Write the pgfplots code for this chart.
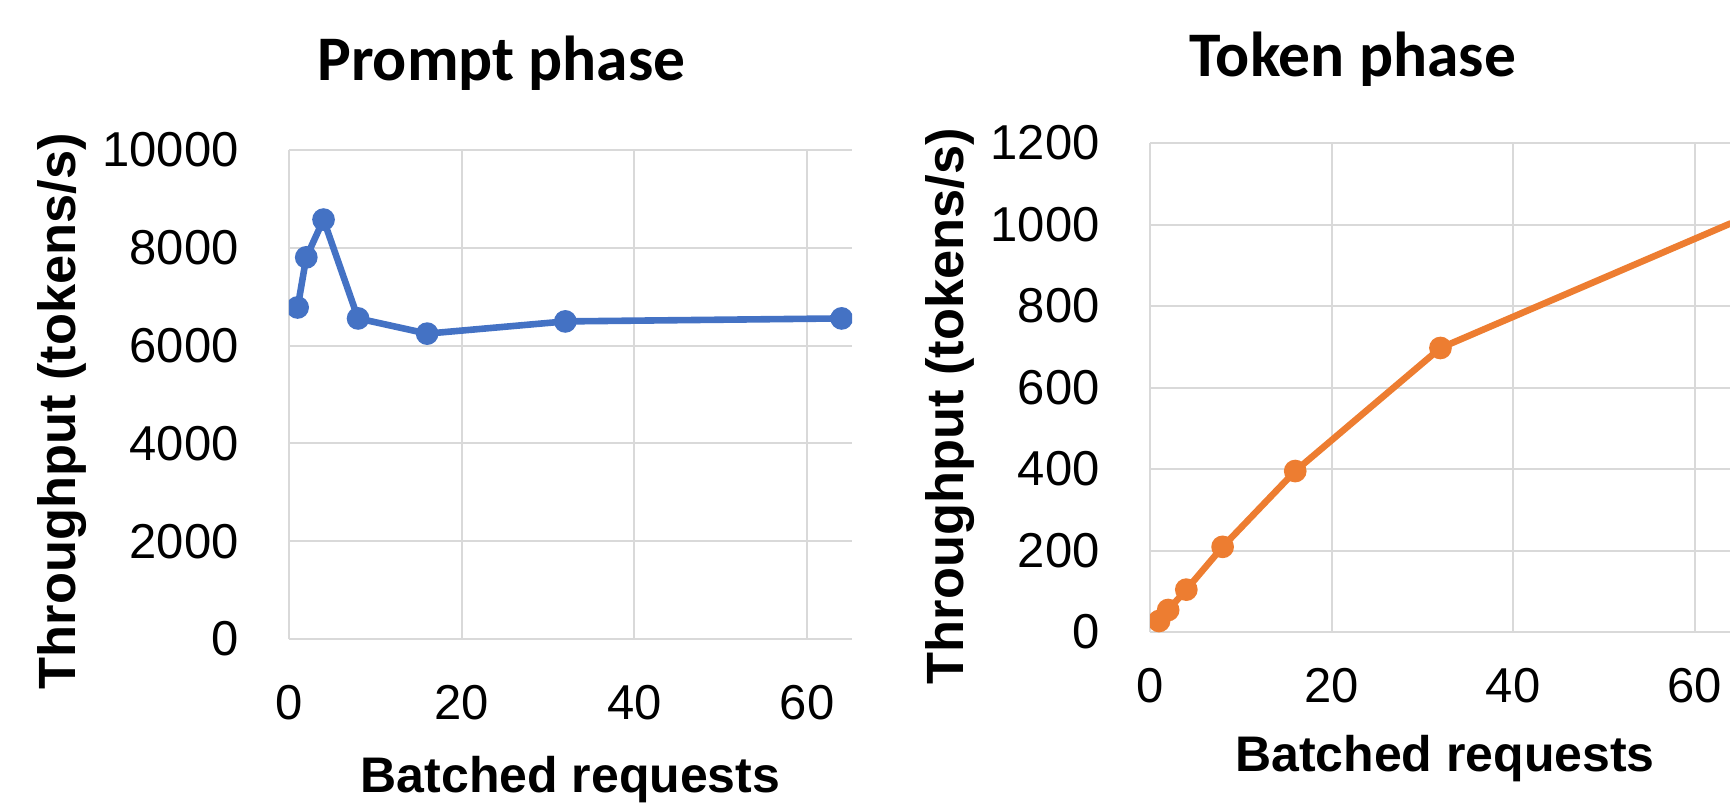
\documentclass[border=0pt]{standalone}
\usepackage{fontspec}
\setmainfont{Liberation Sans}
\newfontfamily\titlefont{Carlito}
\usepackage{pgfplots}
\pgfplotsset{compat=1.18}
\definecolor{blueline}{HTML}{4472C4}
\definecolor{orangeline}{HTML}{ED7D31}
\definecolor{gridc}{HTML}{D9D9D9}
\pgfplotsset{
  mystyle/.style={
    scale only axis,
    height=244.5pt,
    axis line style={draw=none},
    major tick length=0pt,
    grid=major,
    grid style={gridc, line width=1pt},
    scaled ticks=false,
    tick label style={font=\fontsize{24.5}{29}\selectfont},
    yticklabel style={anchor=east, inner sep=0pt, xshift=-25pt},
    /pgf/number format/assume math mode=true,
    /pgf/number format/1000 sep={},
    xlabel style={font=\bfseries\fontsize{25}{30}\selectfont},
    ylabel style={font=\bfseries\fontsize{26.2}{31}\selectfont},
    title style={font=\titlefont\bfseries\fontsize{31.75}{38}\selectfont, anchor=base},
    clip marker paths=true,
    ymin=0,
  }
}
\begin{document}
\begin{tikzpicture}
\path[use as bounding box] (0,0) rectangle (865pt,-405pt);
\begin{axis}[mystyle,
  at={(144.5pt,-319.5pt)}, anchor=south west,
  width=281.5pt,
  xmin=0, xmax=65.2, xtick={0,20,40,60},
  ymax=10000, ytick={0,2000,4000,6000,8000,10000},
  xticklabel style={anchor=north, inner sep=0pt, yshift=-23pt},
  title={Prompt phase}, title style={at={(0.3774,1.1168)}},
  xlabel={Batched requests}, xlabel style={at={(0.5,-0.313)}, anchor=base},
  ylabel={Throughput (tokens/s)}, ylabel style={at={(-0.403,0.466)}, anchor=center},
]
\addplot[blueline, line width=3.3pt, mark=*, mark size=4pt, mark options={fill=blueline, draw=blueline}]
  coordinates {(1,6780) (2,7805) (4,8577) (8,6556) (16,6245) (32,6495) (64,6556)};
\end{axis}
\begin{axis}[mystyle,
  at={(575pt,-316pt)}, anchor=south west,
  width=290pt,
  xmin=0, xmax=63.9, xtick={0,20,40,60},
  ymax=1200, ytick={0,200,400,600,800,1000,1200},
  xticklabel style={anchor=north, inner sep=0pt, yshift=-18pt},
  title={Token phase}, title style={at={(0.35,1.1107)}},
  xlabel={Batched requests}, xlabel style={at={(0.5086,-0.286)}, anchor=base},
  ylabel={Throughput (tokens/s)}, ylabel style={at={(-0.345,0.462)}, anchor=center},
]
\addplot[orangeline, line width=3.3pt, mark=*, mark size=4pt, mark options={fill=orangeline, draw=orangeline}]
  coordinates {(1,27) (2,54) (4,104) (8,209) (16,395) (32,697) (64,1003)};
\end{axis}
\end{tikzpicture}
\end{document}
